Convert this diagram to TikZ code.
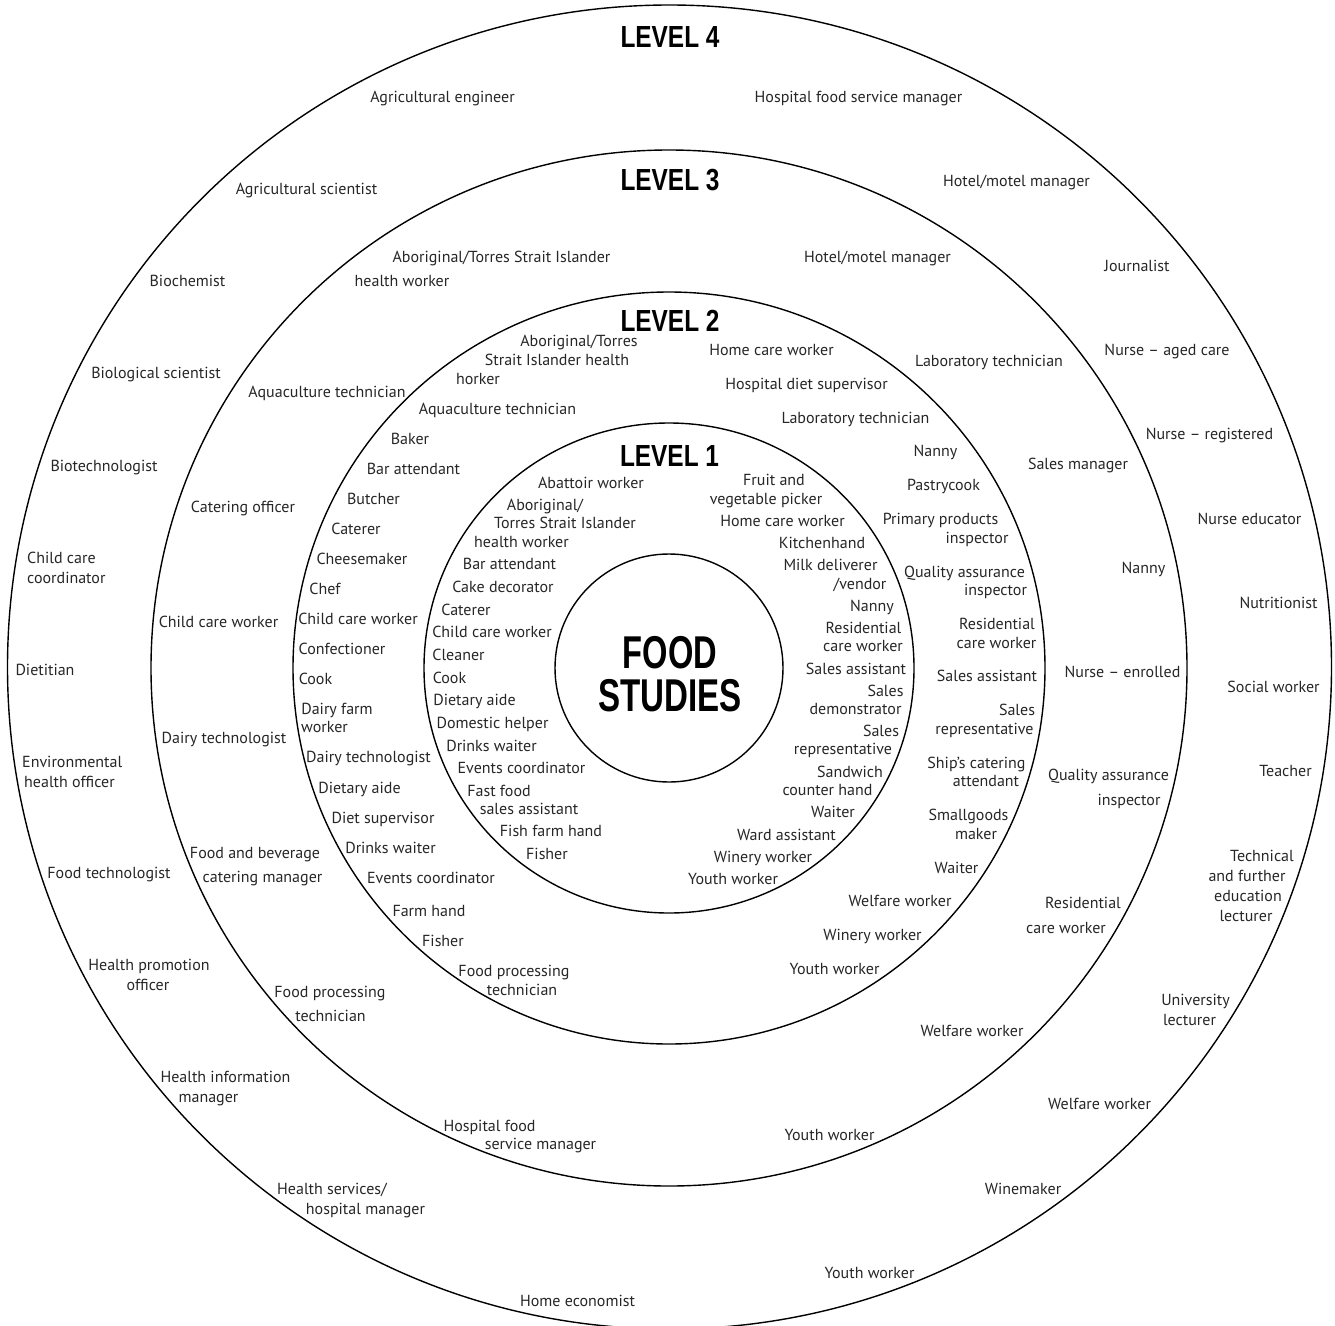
\documentclass[tikz,border=0pt]{standalone}
\usepackage{fontspec}
\usepackage{graphicx}
\setmainfont{PT Sans}
\newfontfamily\headfont{Liberation Sans}
\newcounter{labn}
\newcommand\jl[4][]{\stepcounter{labn}\node[lab,#1] (t\arabic{labn}) at (#2,#3) {#4};}
\newcommand\hd[4]{\node[head] (#1) at (#2,#3) {\scalebox{0.8}[1]{#4}};}
\begin{document}
\begin{tikzpicture}[x=1pt,y=-1pt,
  lab/.style={font=\fontsize{16}{18}\selectfont, inner sep=0pt, text height=11pt, text depth=3pt, text=black!85, yshift=-1pt},
  head/.style={font=\headfont\bfseries\fontsize{30.5}{30}\selectfont, inner sep=0pt},
  core/.style={font=\headfont\bfseries\fontsize{46}{46}\selectfont, inner sep=0pt},
  ring/.style={draw, line width=1.4pt}]
\useasboundingbox (0,0) rectangle (1335,1325);
\begin{scope}
\clip (0,0) rectangle (1335,1325);
\draw[ring] (669.5,667) circle[radius=662pt];
\end{scope}
\draw[ring] (669,668) circle[radius=518pt];
\draw[ring] (669,668) circle[radius=376pt];
\draw[ring] (669,668) circle[radius=245pt];
\node[ring, circle, minimum size=228pt, inner sep=0pt] (food) at (669,668) {};
\node[core] (food1) at (670,653) {\scalebox{0.71}[1]{FOOD}};
\node[core] (food2) at (670,696) {\scalebox{0.72}[1]{STUDIES}};
% headings
\hd{h4}{670}{37}{LEVEL 4}
\hd{h3}{670}{180}{LEVEL 3}
\hd{h2}{670}{321}{LEVEL 2}
\hd{h1}{669.5}{456}{LEVEL 1}
% Level 4
\jl{442.5}{97}{Agricultural engineer}
\jl{858.5}{97}{Hospital food service manager}
\jl{306.5}{189}{Agricultural scientist}
\jl{1016.5}{181}{Hotel/motel manager}
\jl{187.5}{281}{Biochemist}
\jl{1137}{266}{Journalist}
\jl{156}{373}{Biological scientist}
\jl{1167}{350}{Nurse – aged care}
\jl{104}{466}{Biotechnologist}
\jl{1209.5}{434}{Nurse – registered}
\jl[anchor=west]{27}{558}{Child care}
\jl[anchor=west]{27}{578}{coordinator}
\jl{1249.5}{519}{Nurse educator}
\jl{1278.5}{603}{Nutritionist}
\jl{45}{670}{Dietitian}
\jl{1273.5}{687}{Social worker}
\jl[anchor=west]{22}{762}{Environmental}
\jl[anchor=west]{24}{782}{health officer}
\jl{1285.5}{771}{Teacher}
\jl{109}{873}{Food technologist}
\jl{1262}{856}{Technical}
\jl{1247}{876}{and further}
\jl{1248}{896}{education}
\jl{1246}{916}{lecturer}
\jl{149}{965}{Health promotion}
\jl{148}{985}{officer}
\jl{1195.5}{1000}{University}
\jl{1189.5}{1020}{lecturer}
\jl{225.5}{1077}{Health information}
\jl{208.5}{1097}{manager}
\jl{1099.5}{1104}{Welfare worker}
\jl{332}{1189}{Health services/}
\jl{365.5}{1209}{hospital manager}
\jl{1023}{1189}{Winemaker}
\jl{869.5}{1273}{Youth worker}
\jl{577.5}{1301}{Home economist}
% Level 3
\jl{501.5}{257}{Aboriginal/Torres Strait Islander}
\jl{402}{281}{health worker}
\jl{877.5}{257}{Hotel/motel manager}
\jl{327}{392}{Aquaculture technician}
\jl{989}{361}{Laboratory technician}
\jl{1078}{464}{Sales manager}
\jl{243}{507}{Catering officer}
\jl{1143.5}{568}{Nanny}
\jl{218.5}{622}{Child care worker}
\jl{1122.5}{672}{Nurse – enrolled}
\jl{224}{738}{Dairy technologist}
\jl{1108.5}{775}{Quality assurance}
\jl{1129}{800}{inspector}
\jl{255}{853}{Food and beverage}
\jl{262.5}{877}{catering manager}
\jl{1083}{903}{Residential}
\jl{1066}{928}{care worker}
\jl{330}{992}{Food processing}
\jl{330.5}{1016}{technician}
\jl{972}{1031}{Welfare worker}
\jl{489.5}{1126}{Hospital food}
\jl{540.5}{1144}{service manager}
\jl{829.5}{1135}{Youth worker}
% Level 2
\jl{579}{341}{Aboriginal/Torres}
\jl{557}{360}{Strait Islander health}
\jl{478}{379}{horker}
\jl{771.5}{350}{Home care worker}
\jl{806.5}{384}{Hospital diet supervisor}
\jl{497.5}{409}{Aquaculture technician}
\jl{855.5}{418}{Laboratory technician}
\jl{410}{439}{Baker}
\jl{935.5}{451}{Nanny}
\jl{413.5}{469}{Bar attendant}
\jl{943.5}{485}{Pastrycook}
\jl{373.5}{499}{Butcher}
\jl{940.5}{519}{Primary products}
\jl{977}{538}{inspector}
\jl{356}{529}{Caterer}
\jl{362}{559}{Cheesemaker}
\jl{964.5}{572}{Quality assurance}
\jl{995.5}{590}{inspector}
\jl{325}{589}{Chef}
\jl{358}{619}{Child care worker}
\jl{997}{624}{Residential}
\jl{996.5}{643}{care worker}
\jl{342}{649}{Confectioner}
\jl{987}{676}{Sales assistant}
\jl{315.5}{679}{Cook}
\jl{337}{709}{Dairy farm}
\jl{324.5}{727}{worker}
\jl{1017}{710}{Sales}
\jl{984.5}{729}{representative}
\jl{368.5}{757}{Dairy technologist}
\jl{976.5}{763}{Ship’s catering}
\jl{986}{781}{attendant}
\jl{359.5}{788}{Dietary aide}
\jl{968.5}{815}{Smallgoods}
\jl{976}{834}{maker}
\jl{383}{818}{Diet supervisor}
\jl{390.5}{848}{Drinks waiter}
\jl{956.5}{868}{Waiter}
\jl{431}{878}{Events coordinator}
\jl{900}{901}{Welfare worker}
\jl{429}{911}{Farm hand}
\jl{443}{941}{Fisher}
\jl{872.5}{935}{Winery worker}
\jl{514}{971}{Food processing}
\jl{522}{990}{technician}
\jl{834.5}{969}{Youth worker}
% Level 1
\jl{591}{483}{Abattoir worker}
\jl{774}{480}{Fruit and}
\jl{766}{499}{vegetable picker}
\jl{545}{505}{Aboriginal/}
\jl{565}{523}{Torres Strait Islander}
\jl{521.5}{542}{health worker}
\jl{782.5}{521}{Home care worker}
\jl{822}{543}{Kitchenhand}
\jl{509.5}{564}{Bar attendant}
\jl{830.5}{565}{Milk deliverer}
\jl{860}{584}{/vendor}
\jl{503}{587}{Cake decorator}
\jl{872}{606}{Nanny}
\jl{466}{610}{Caterer}
\jl{863.5}{628}{Residential}
\jl{863}{646}{care worker}
\jl{492}{632}{Child care worker}
\jl{458.5}{655}{Cleaner}
\jl{856}{669}{Sales assistant}
\jl{449.5}{678}{Cook}
\jl{885.5}{691}{Sales}
\jl{855.5}{709}{demonstrator}
\jl{474.5}{700}{Dietary aide}
\jl{492.5}{723}{Domestic helper}
\jl{881}{731}{Sales}
\jl{843}{749}{representative}
\jl{491.5}{746}{Drinks waiter}
\jl{521.5}{768}{Events coordinator}
\jl{850}{772}{Sandwich}
\jl{827.5}{790}{counter hand}
\jl{499}{791}{Fast food}
\jl{529}{809}{sales assistant}
\jl{833}{812}{Waiter}
\jl{551}{831}{Fish farm hand}
\jl{786.5}{835}{Ward assistant}
\jl{547}{854}{Fisher}
\jl{763}{857}{Winery worker}
\jl{733}{879}{Youth worker}
\end{tikzpicture}
\end{document}
